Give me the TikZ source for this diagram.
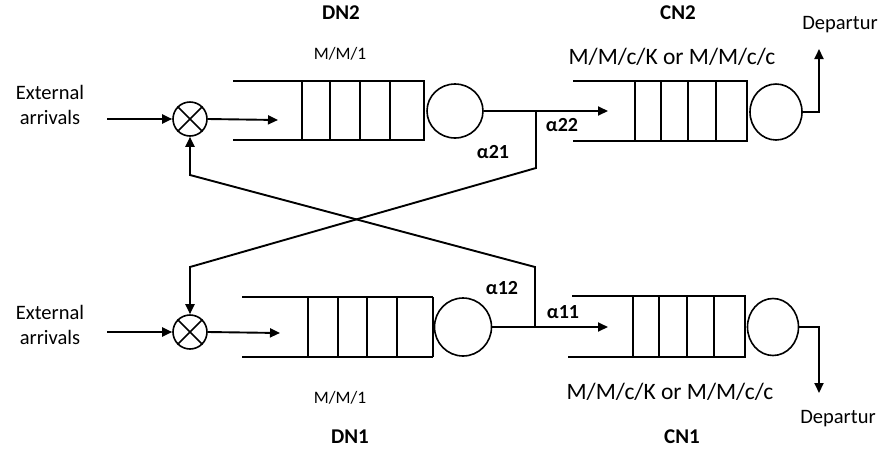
\documentclass[tikz,border=0pt]{standalone}
\usepackage{fontspec}
\setmainfont{Carlito}
\usetikzlibrary{arrows.meta,shapes.geometric}
\tikzset{
  conn/.style={line width=1.9pt, -{Triangle[length=10pt,width=9pt]}},
  qline/.style={line width=2.1pt},
  mixer/.style={circle, draw, line width=1.6pt, minimum size=34pt, inner sep=0pt},
  server/.style={ellipse, draw, line width=1.6pt, inner sep=0pt},
  lbl/.style={font=\fontsize{20.5}{25}\selectfont, align=center, inner sep=0pt},
  boldlbl/.style={font=\fontsize{21}{25}\selectfont\bfseries, inner sep=0pt},
  modelsmall/.style={font=\fontsize{17.5}{21}\selectfont, inner sep=0pt},
  modelbig/.style={font=\fontsize{23.5}{27}\selectfont, inner sep=0pt},
  alpha/.style={font=\fontsize{20}{24}\selectfont\bfseries, inner sep=0pt}
}
\begin{document}
\begin{tikzpicture}[x=1pt,y=-1pt]
\useasboundingbox (0,0) rectangle (883,456);

% ---------- top row (DN2 -> CN2)
\node[lbl] (ext2) at (50,105) {External\\arrivals};
\coordinate (ext2in) at (107,119);
\node[mixer] (mix2) at (190,119) {};
\draw[line width=1.6pt] (mix2.north east) -- (mix2.south west) (mix2.north west) -- (mix2.south east);
\coordinate (dn2in) at (278,120);
% DN2 queue
\draw[qline] (233,81) -- (425,81) (233,140) -- (425,140);
\foreach \x in {302,330,360,390,424} \draw[qline] (\x,81) -- (\x,140);
\node[server, minimum width=56pt, minimum height=54pt] (srv2) at (455,111) {};
\node[boldlbl] (dn2lbl) at (341,13) {DN2};
\node[modelsmall] (dn2model) at (340,54) {M/M/1};

% CN2 queue
\coordinate (cn2in) at (608,111);
\draw[qline] (573,81) -- (748,81) (573,141) -- (748,141);
\foreach \x in {635,661,688,716,747} \draw[qline] (\x,81) -- (\x,141);
\node[server, minimum width=52pt, minimum height=56pt] (csrv2) at (776,112) {};
\node[boldlbl] (cn2lbl) at (678,13) {CN2};
\node[modelbig] (cn2model) at (672,57) {M/M/c/K or M/M/c/c};
\node[lbl] (dep2) at (840,25) {Departur};
\coordinate (dep2tip) at (819,49);

\node[alpha] (a21) at (493,152) {α21};
\node[alpha] (a22) at (562,125) {α22};

% ---------- bottom row (DN1 -> CN1)
\node[lbl] (ext1) at (50,325) {External\\arrivals};
\coordinate (ext1in) at (107,332);
\node[mixer] (mix1) at (190,332) {};
\draw[line width=1.6pt] (mix1.north east) -- (mix1.south west) (mix1.north west) -- (mix1.south east);
\coordinate (dn1in) at (280,333);
% DN1 queue
\draw[qline] (242,297) -- (433,297) (242,357) -- (433,357);
\foreach \x in {308,338,367,397,433} \draw[qline] (\x,297) -- (\x,357);
\node[server, minimum width=57pt, minimum height=58pt] (srv1) at (463,327) {};
\node[modelsmall] (dn1model) at (340,398) {M/M/1};
\node[boldlbl] (dn1lbl) at (350,437) {DN1};

% CN1 queue
\coordinate (cn1in) at (608,327);
\draw[qline] (572,296) -- (746,296) (568,357) -- (746,357);
\foreach \x in {633,659,687,714,745} \draw[qline] (\x,296) -- (\x,357);
\node[server, minimum width=51pt, minimum height=57pt] (csrv1) at (773,327) {};
\node[modelbig] (cn1model) at (670,392) {M/M/c/K or M/M/c/c};
\node[boldlbl] (cn1lbl) at (682,437) {CN1};
\node[lbl] (dep1) at (838,419) {Departur};
\coordinate (dep1tip) at (819,393);

\node[alpha] (a12) at (502,288) {α12};
\node[alpha] (a11) at (563,312) {α11};

% ---------- connectors
\draw[conn] (ext2in) -- (mix2.west);
\draw[conn] (mix2.east) -- (dn2in);
\draw[conn] (srv2.east) -- (cn2in);
\draw[conn] (csrv2.east) -- (819,112) -- (dep2tip);
\coordinate (br2) at (536,111);
\draw[conn] (br2) -- (536,168) -- (190,267) -- (mix1.north);

\draw[conn] (ext1in) -- (mix1.west);
\draw[conn] (mix1.east) -- (dn1in);
\draw[conn] (srv1.east) -- (cn1in);
\draw[conn] (csrv1.east) -- (819,327) -- (dep1tip);
\coordinate (br1) at (535,327);
\draw[conn] (br1) -- (535,267) -- (190,175) -- (mix2.south);
\end{tikzpicture}
\end{document}
